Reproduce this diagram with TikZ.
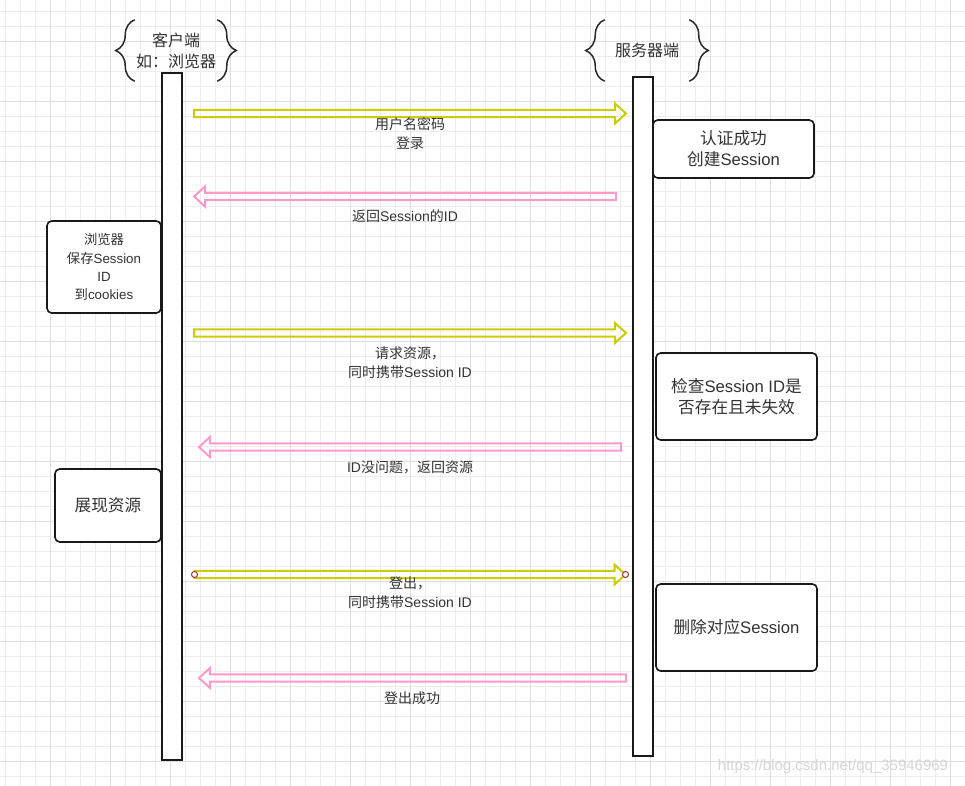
\documentclass[tikz,border=0pt]{standalone}
\usepackage{fontspec}
\setmainfont{Liberation Sans}
\newfontfamily\cjk{Noto Sans CJK SC}
\usepackage{tikz}
\usetikzlibrary{calc,decorations.pathreplacing}
\definecolor{lineyellow}{HTML}{CCCC00}
\definecolor{linepink}{HTML}{FF99CC}
\definecolor{ringred}{HTML}{A33A3A}
\definecolor{textgray}{HTML}{333333}
\tikzset{%
  minorgrid/.style={draw=black!7,line width=0.6pt},
  majorgrid/.style={draw=black!13,line width=0.6pt},
  lifeline/.style={draw=black!90,fill=white,line width=1.5pt,minimum width=15pt,inner sep=0},
  actbox/.style={draw=black!90,fill=white,line width=1.2pt,rounded corners=3.5pt,align=center,
    text=textgray,inner sep=0,font=\fontsize{12.5}{15.75}\selectfont},
  headtext/.style={align=center,text=textgray,inner sep=0,font=\fontsize{12}{15.75}\selectfont},
  msg/.style={align=center,text=textgray,inner sep=0,font=\fontsize{10.5}{14.25}\selectfont},
  curly/.style={draw=black!85,line width=1.1pt,decorate,decoration={brace,amplitude=14.25pt}},
  fatarrow/.style={line width=1.5pt,line join=miter,to path={
    ($(\tikztostart)!2.8pt!90:(\tikztotarget)$)
    -- ($(\tikztotarget)!8.25pt!(\tikztostart)!2.8pt!90:(\tikztotarget)$)
    -- ($(\tikztotarget)!8.25pt!(\tikztostart)!7.5pt!90:(\tikztotarget)$)
    -- (\tikztotarget)
    -- ($(\tikztotarget)!8.25pt!(\tikztostart)!7.5pt!-90:(\tikztotarget)$)
    -- ($(\tikztotarget)!8.25pt!(\tikztostart)!2.8pt!-90:(\tikztotarget)$)
    -- ($(\tikztostart)!2.8pt!-90:(\tikztotarget)$) -- cycle}},
  request/.style={fatarrow,draw=lineyellow},
  reply/.style={fatarrow,draw=linepink},
  endring/.style={draw=ringred,fill=white,line width=0.8pt,shape=circle,inner sep=0,minimum size=4.5pt}
}

\begin{document}
\begin{tikzpicture}[x=0.75pt,y=-0.75pt]
  \fill[white] (0,0) rectangle (965,786);
  \useasboundingbox (0,0) rectangle (965,786);
  % background grid
  \foreach \x in {5,20,...,965} \draw[minorgrid] (\x,0) -- (\x,786);
  \foreach \y in {11.5,26.5,...,786} \draw[minorgrid] (0,\y) -- (965,\y);
  \foreach \x in {50,110,...,965} \draw[majorgrid] (\x,0) -- (\x,786);
  \foreach \y in {41.5,101.5,...,786} \draw[majorgrid] (0,\y) -- (965,\y);

  % heads
  \node (clienthead)[headtext,minimum width=61.5pt,minimum height=45.75pt] at (176,50.5) {{\cjk 客户端}\\{\cjk 如：浏览器}};
  \node (serverhead)[headtext,minimum width=63pt,minimum height=45.75pt] at (647,50.5) {{\cjk 服务器端}};
  \draw[curly] (clienthead.south west) -- (clienthead.north west);
  \draw[curly] (clienthead.north east) -- (clienthead.south east);
  \draw[curly] (serverhead.south west) -- (serverhead.north west);
  \draw[curly] (serverhead.north east) -- (serverhead.south east);

  % lifelines
  \node (client)[lifeline,minimum height=515.25pt] at (172,416.5) {};
  \node (server)[lifeline,minimum height=509.25pt] at (643,416.5) {};

  % boxes
  \node (auth)[actbox,minimum width=120.75pt,minimum height=43.5pt] at (733.5,149) {{\cjk 认证成功}\\{\cjk 创建}Session};
  \node (save)[actbox,minimum width=85.5pt,minimum height=69pt,font=\fontsize{10}{13.75}\selectfont] at (104,267) {{\cjk 浏览器}\\{\cjk 保存}Session\\ID\\{\cjk 到}cookies};
  \node (check)[actbox,minimum width=120.75pt,minimum height=65.25pt] at (736.5,396.5) {{\cjk 检查}Session ID{\cjk 是}\\{\cjk 否存在且未失效}};
  \node (show)[actbox,minimum width=79.5pt,minimum height=54.75pt] at (108,505.5) {{\cjk 展现资源}};
  \node (drop)[actbox,minimum width=120.75pt,minimum height=65.25pt] at (736.5,627.5) {{\cjk 删除对应}Session};

  % messages
  \coordinate (login_a) at (194,113.5);  \coordinate (login_b) at (626,113.5);
  \coordinate (sid_a) at (616,196.5);    \coordinate (sid_b) at (194,196.5);
  \coordinate (ask_a) at (194,333);      \coordinate (ask_b) at (626,333);
  \coordinate (res_a) at (621,447);      \coordinate (res_b) at (199,447);
  \coordinate (out_a) at (194.5,574.5);  \coordinate (out_b) at (625.5,574.5);
  \coordinate (bye_a) at (626,678);      \coordinate (bye_b) at (199,678);
  \draw[request] (login_a) to (login_b);
  \draw[reply] (sid_a) to (sid_b);
  \draw[request] (ask_a) to (ask_b);
  \draw[reply] (res_a) to (res_b);
  \draw[request] (out_a) to (out_b);
  \draw[reply] (bye_a) to (bye_b);
  \node (out_ring_a)[endring] at (out_a) {};
  \node (out_ring_b)[endring] at (out_b) {};

  \node (login_lbl)[msg] at (410,133.5) {{\cjk 用户名密码}\\{\cjk 登录}};
  \node (sid_lbl)[msg] at (405,216) {{\cjk 返回}Session{\cjk 的}ID};
  \node (ask_lbl)[msg] at (410,363) {{\cjk 请求资源，}\\{\cjk 同时携带}Session ID};
  \node (res_lbl)[msg] at (410,467) {ID{\cjk 没问题，返回资源}};
  \node (out_lbl)[msg] at (410,593) {{\cjk 登出，}\\{\cjk 同时携带}Session ID};
  \node (bye_lbl)[msg] at (412,698) {{\cjk 登出成功}};

  \node (mark)[text=black!16,inner sep=0,font=\fontsize{11.25}{13}\selectfont] at (833,767) {https://blog.csdn.net/qq\_35946969};
\end{tikzpicture}
\end{document}
